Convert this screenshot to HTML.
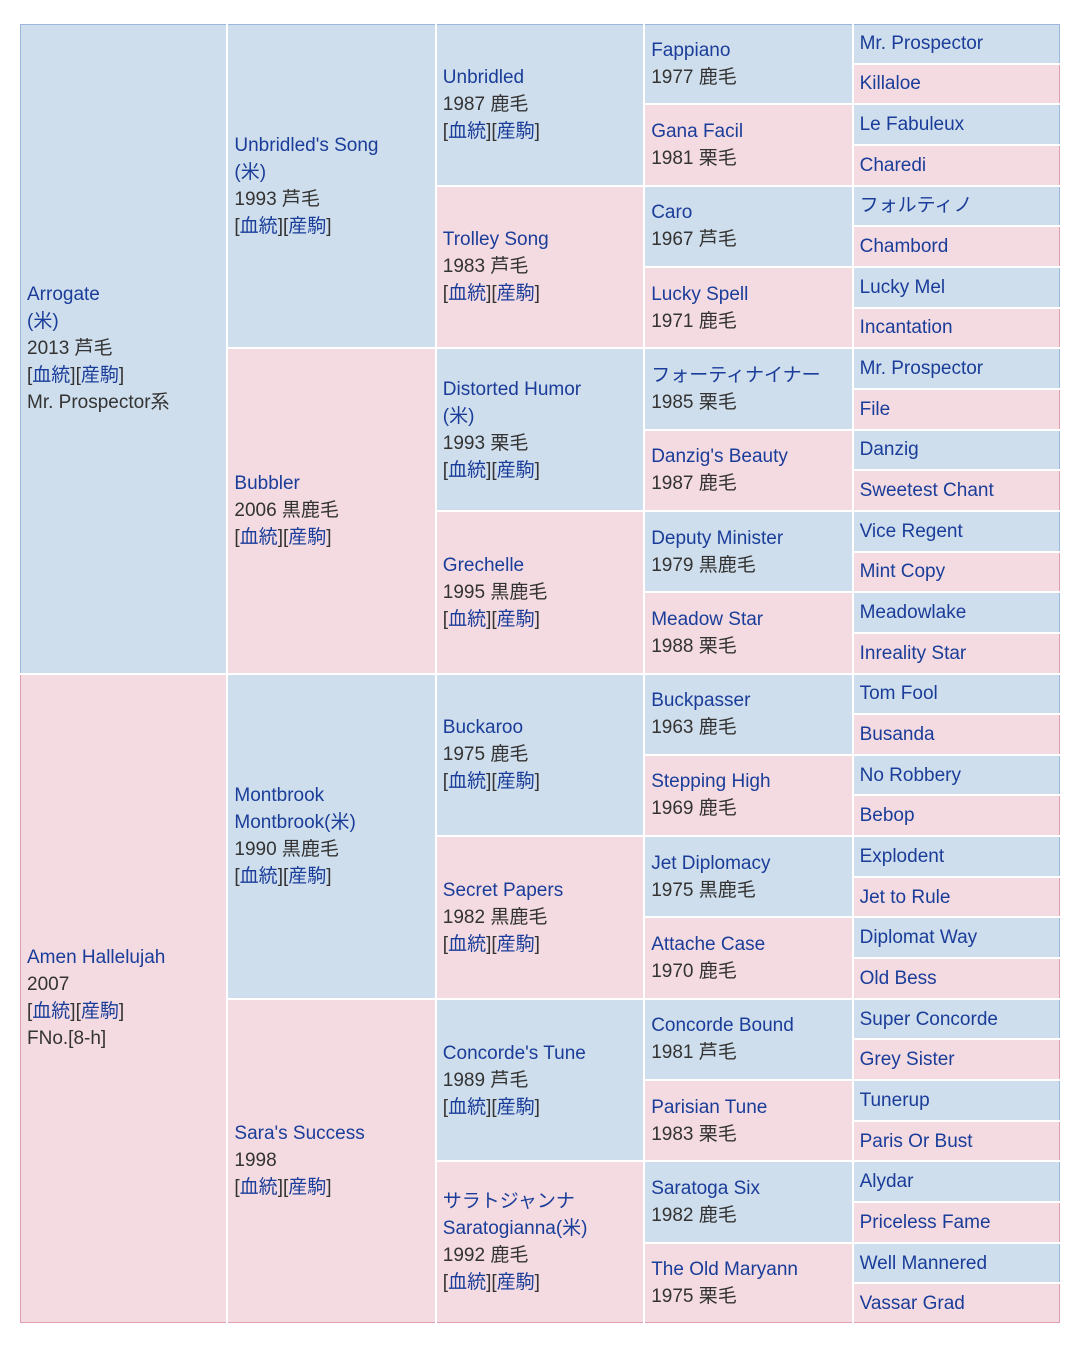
<!DOCTYPE html>
<html><head><meta charset="utf-8"><style>
body{margin:0;background:#fff;width:1080px;height:1350px;position:relative;font-family:"Liberation Sans","Noto Sans CJK JP",sans-serif;}
.g{position:absolute;left:20px;top:24px;width:1040px;height:1299px;display:grid;grid-template-columns:repeat(5,1fr);grid-template-rows:repeat(32,1fr);gap:2px;grid-auto-flow:column;background:#fff;}
.g>div{display:flex;flex-direction:column;justify-content:center;padding-left:6px;font-size:19px;line-height:27px;color:#333;overflow:hidden;white-space:nowrap;}
.b{background:#cfdeed}.p{background:#f4dbe2}
.s16{grid-row:span 16}.s8{grid-row:span 8}.s4{grid-row:span 4}.s2{grid-row:span 2}.s1{grid-row:span 1}
.l{color:#1a3d99}
.c1.b{border-left:1px solid #9bb8dc;border-top:1px solid #9bb8dc}
.c1.p{border-left:1px solid #e0a0b0;border-bottom:1px solid #e0a0b0}
.c5.b{border-right:1px solid #9bb8dc}.c5.p{border-right:1px solid #e0a0b0}
.first{border-top:1px solid #9bb8dc}.last{border-bottom:1px solid #e0a0b0}
</style></head><body>
<div class="g">
<div class="b s16 c1"><span class="l">Arrogate</span><span class="l">(米)</span><span>2013 芦毛</span><span>[<span class="l">血統</span>][<span class="l">産駒</span>]</span><span>Mr. Prospector系</span></div>
<div class="p s16 c1"><span class="l">Amen Hallelujah</span><span>2007</span><span>[<span class="l">血統</span>][<span class="l">産駒</span>]</span><span>FNo.[8-h]</span></div>

<div class="b s8 first"><span class="l">Unbridled's Song</span><span class="l">(米)</span><span>1993 芦毛</span><span>[<span class="l">血統</span>][<span class="l">産駒</span>]</span></div>
<div class="p s8"><span class="l">Bubbler</span><span>2006 黒鹿毛</span><span>[<span class="l">血統</span>][<span class="l">産駒</span>]</span></div>
<div class="b s8"><span class="l">Montbrook</span><span class="l">Montbrook(米)</span><span>1990 黒鹿毛</span><span>[<span class="l">血統</span>][<span class="l">産駒</span>]</span></div>
<div class="p s8 last"><span class="l">Sara's Success</span><span>1998</span><span>[<span class="l">血統</span>][<span class="l">産駒</span>]</span></div>

<div class="b s4 first"><span class="l">Unbridled</span><span>1987 鹿毛</span><span>[<span class="l">血統</span>][<span class="l">産駒</span>]</span></div>
<div class="p s4"><span class="l">Trolley Song</span><span>1983 芦毛</span><span>[<span class="l">血統</span>][<span class="l">産駒</span>]</span></div>
<div class="b s4"><span class="l">Distorted Humor</span><span class="l">(米)</span><span>1993 栗毛</span><span>[<span class="l">血統</span>][<span class="l">産駒</span>]</span></div>
<div class="p s4"><span class="l">Grechelle</span><span>1995 黒鹿毛</span><span>[<span class="l">血統</span>][<span class="l">産駒</span>]</span></div>
<div class="b s4"><span class="l">Buckaroo</span><span>1975 鹿毛</span><span>[<span class="l">血統</span>][<span class="l">産駒</span>]</span></div>
<div class="p s4"><span class="l">Secret Papers</span><span>1982 黒鹿毛</span><span>[<span class="l">血統</span>][<span class="l">産駒</span>]</span></div>
<div class="b s4"><span class="l">Concorde's Tune</span><span>1989 芦毛</span><span>[<span class="l">血統</span>][<span class="l">産駒</span>]</span></div>
<div class="p s4 last"><span class="l">サラトジャンナ</span><span class="l">Saratogianna(米)</span><span>1992 鹿毛</span><span>[<span class="l">血統</span>][<span class="l">産駒</span>]</span></div>

<div class="b s2 first"><span class="l">Fappiano</span><span>1977 鹿毛</span></div>
<div class="p s2"><span class="l">Gana Facil</span><span>1981 栗毛</span></div>
<div class="b s2"><span class="l">Caro</span><span>1967 芦毛</span></div>
<div class="p s2"><span class="l">Lucky Spell</span><span>1971 鹿毛</span></div>
<div class="b s2"><span class="l">フォーティナイナー</span><span>1985 栗毛</span></div>
<div class="p s2"><span class="l">Danzig's Beauty</span><span>1987 鹿毛</span></div>
<div class="b s2"><span class="l">Deputy Minister</span><span>1979 黒鹿毛</span></div>
<div class="p s2"><span class="l">Meadow Star</span><span>1988 栗毛</span></div>
<div class="b s2"><span class="l">Buckpasser</span><span>1963 鹿毛</span></div>
<div class="p s2"><span class="l">Stepping High</span><span>1969 鹿毛</span></div>
<div class="b s2"><span class="l">Jet Diplomacy</span><span>1975 黒鹿毛</span></div>
<div class="p s2"><span class="l">Attache Case</span><span>1970 鹿毛</span></div>
<div class="b s2"><span class="l">Concorde Bound</span><span>1981 芦毛</span></div>
<div class="p s2"><span class="l">Parisian Tune</span><span>1983 栗毛</span></div>
<div class="b s2"><span class="l">Saratoga Six</span><span>1982 鹿毛</span></div>
<div class="p s2 last"><span class="l">The Old Maryann</span><span>1975 栗毛</span></div>

<div class="b s1 c5 first"><span class="l">Mr. Prospector</span></div>
<div class="p s1 c5"><span class="l">Killaloe</span></div>
<div class="b s1 c5"><span class="l">Le Fabuleux</span></div>
<div class="p s1 c5"><span class="l">Charedi</span></div>
<div class="b s1 c5"><span class="l">フォルティノ</span></div>
<div class="p s1 c5"><span class="l">Chambord</span></div>
<div class="b s1 c5"><span class="l">Lucky Mel</span></div>
<div class="p s1 c5"><span class="l">Incantation</span></div>
<div class="b s1 c5"><span class="l">Mr. Prospector</span></div>
<div class="p s1 c5"><span class="l">File</span></div>
<div class="b s1 c5"><span class="l">Danzig</span></div>
<div class="p s1 c5"><span class="l">Sweetest Chant</span></div>
<div class="b s1 c5"><span class="l">Vice Regent</span></div>
<div class="p s1 c5"><span class="l">Mint Copy</span></div>
<div class="b s1 c5"><span class="l">Meadowlake</span></div>
<div class="p s1 c5"><span class="l">Inreality Star</span></div>
<div class="b s1 c5"><span class="l">Tom Fool</span></div>
<div class="p s1 c5"><span class="l">Busanda</span></div>
<div class="b s1 c5"><span class="l">No Robbery</span></div>
<div class="p s1 c5"><span class="l">Bebop</span></div>
<div class="b s1 c5"><span class="l">Explodent</span></div>
<div class="p s1 c5"><span class="l">Jet to Rule</span></div>
<div class="b s1 c5"><span class="l">Diplomat Way</span></div>
<div class="p s1 c5"><span class="l">Old Bess</span></div>
<div class="b s1 c5"><span class="l">Super Concorde</span></div>
<div class="p s1 c5"><span class="l">Grey Sister</span></div>
<div class="b s1 c5"><span class="l">Tunerup</span></div>
<div class="p s1 c5"><span class="l">Paris Or Bust</span></div>
<div class="b s1 c5"><span class="l">Alydar</span></div>
<div class="p s1 c5"><span class="l">Priceless Fame</span></div>
<div class="b s1 c5"><span class="l">Well Mannered</span></div>
<div class="p s1 c5 last"><span class="l">Vassar Grad</span></div>
</div>
</body></html>
